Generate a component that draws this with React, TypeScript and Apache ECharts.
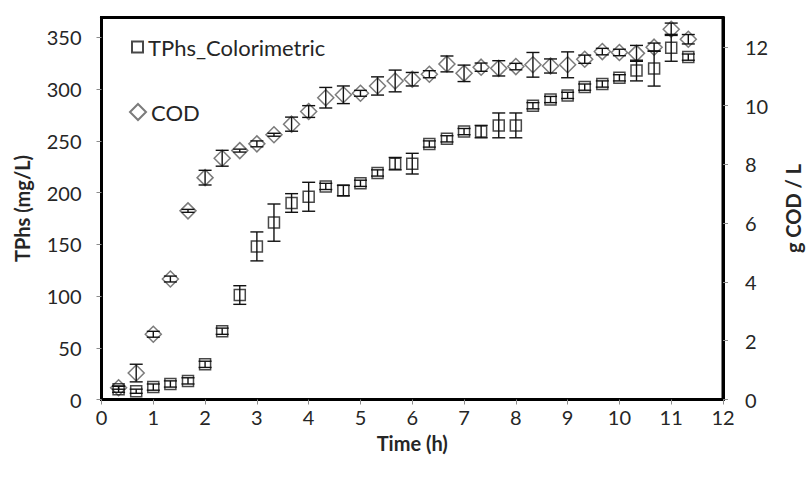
import React, { useEffect, useRef } from "react";
import * as echarts from "echarts";

// Sampling times (h)
const hours = [0.33, 0.67, 1, 1.33, 1.67, 2, 2.33, 2.67, 3, 3.33, 3.67, 4, 4.33, 4.67, 5, 5.33, 5.67, 6, 6.33, 6.67, 7, 7.33, 7.67, 8, 8.33, 8.67, 9, 9.33, 9.67, 10, 10.33, 10.67, 11, 11.33];

// TPhs (mg/L), colorimetric
const tphs = [10, 8, 12, 15, 18, 34, 66, 101, 148, 171, 190, 196, 206, 202, 209, 219, 228, 228, 247, 252, 259, 259, 265, 265, 284, 290, 294, 302, 305, 311, 318, 320, 340, 331];
const tphsErr = [3, 2, 3, 3, 3, 3, 3, 9, 14, 18, 9, 14, 3, 5, 3, 3, 6, 10, 3, 3, 3, 6, 12, 12, 3, 3, 3, 3, 3, 3, 10, 17, 13, 3];

// COD (g COD / L)
const cod = [0.4, 0.9, 2.22, 4.1, 6.42, 7.55, 8.21, 8.47, 8.7, 9.01, 9.37, 9.8, 10.27, 10.37, 10.42, 10.67, 10.84, 10.9, 11.07, 11.42, 11.1, 11.31, 11.27, 11.33, 11.39, 11.35, 11.39, 11.58, 11.84, 11.81, 11.78, 11.99, 12.6, 12.26];
const codErr = [0.05, 0.3, 0.1, 0.1, 0.05, 0.25, 0.27, 0.05, 0.1, 0.05, 0.24, 0.2, 0.35, 0.3, 0.1, 0.31, 0.37, 0.23, 0.12, 0.27, 0.28, 0.14, 0.26, 0.11, 0.42, 0.24, 0.44, 0.14, 0.11, 0.11, 0.27, 0.14, 0.21, 0.16];

// Tick labels
const xTicks = [0, 1, 2, 3, 4, 5, 6, 7, 8, 9, 10, 11, 12];
const leftTicks = [0, 50, 100, 150, 200, 250, 300, 350];
const rightTicks = [0, 2, 4, 6, 8, 10, 12];

const FONT = "Lato";
const TEXT = "#262626";

export default function App() {
  const ref = useRef<HTMLDivElement>(null);

  useEffect(() => {
    if (!ref.current) return;
    const chart = echarts.init(ref.current, null, { renderer: "svg" });

    const errorBars = (values: number[], errs: number[], yAxisIndex: number, z: number) => ({
      type: "custom",
      yAxisIndex,
      silent: true,
      z,
      data: hours.map((h, i) => [h, values[i] - errs[i], values[i] + errs[i]]),
      encode: { x: 0, y: [1, 2] },
      renderItem: (_params: any, api: any) => {
        const x = api.value(0);
        const lo = api.coord([x, api.value(1)]);
        const hi = api.coord([x, api.value(2)]);
        const cap = 6.5;
        const style = { stroke: "#111", lineWidth: 1.4 };
        return {
          type: "group",
          children: [
            { type: "line", shape: { x1: lo[0], y1: lo[1], x2: hi[0], y2: hi[1] }, style },
            { type: "line", shape: { x1: lo[0] - cap, y1: lo[1], x2: lo[0] + cap, y2: lo[1] }, style },
            { type: "line", shape: { x1: hi[0] - cap, y1: hi[1], x2: hi[0] + cap, y2: hi[1] }, style },
          ],
        };
      },
    });

    const legendText = { fontFamily: FONT, fontSize: 22, color: TEXT };

    chart.setOption({
      animation: false,
      backgroundColor: "#fff",
      grid: {
        left: 101.5,
        top: 17.5,
        right: 82.5,
        bottom: 79.5,
        show: true,
        borderColor: "#000",
        borderWidth: 3,
        backgroundColor: "transparent",
      },
      legend: [
        {
          data: ["TPhs_Colorimetric"],
          left: 126,
          top: 31,
          itemWidth: 11,
          itemHeight: 11,
          textStyle: legendText,
        },
        {
          data: ["COD"],
          left: 124,
          top: 96,
          itemWidth: 16,
          itemHeight: 16,
          textStyle: legendText,
        },
      ],
      xAxis: {
        type: "value",
        min: 0,
        max: 12,
        interval: 1,
        name: "Time (h)",
        nameLocation: "middle",
        nameGap: 33,
        nameTextStyle: { fontFamily: FONT, fontSize: 20, fontWeight: "bold", color: TEXT },
        axisLine: { show: true, lineStyle: { color: "#000", width: 3 } },
        axisTick: { show: true, inside: false, length: 5, lineStyle: { color: "#8c8c8c", width: 1 }, customValues: xTicks },
        axisLabel: { margin: 7, fontFamily: FONT, fontSize: 20, color: TEXT, customValues: xTicks },
        splitLine: { show: false },
      },
      yAxis: [
        {
          type: "value",
          position: "left",
          min: 0,
          max: 369.3,
          interval: 50,
          name: "TPhs (mg/L)",
          nameLocation: "middle",
          nameRotate: 90,
          nameGap: 70,
          nameTextStyle: { fontFamily: FONT, fontSize: 20, fontWeight: "bold", color: TEXT },
          axisLine: { show: true, lineStyle: { color: "#000", width: 3 } },
          axisTick: { show: true, inside: false, length: 5, lineStyle: { color: "#8c8c8c", width: 1 }, customValues: leftTicks },
          axisLabel: { margin: 20, fontFamily: FONT, fontSize: 20, color: TEXT, customValues: leftTicks },
          splitLine: { show: false },
        },
        {
          type: "value",
          position: "right",
          min: 0,
          max: 13,
          interval: 2,
          name: "g COD / L",
          nameLocation: "middle",
          nameRotate: 90,
          nameGap: 60,
          nameTextStyle: { fontFamily: FONT, fontSize: 20, fontWeight: "bold", color: TEXT },
          axisLine: { show: true, lineStyle: { color: "#000", width: 3 } },
          axisTick: { show: true, inside: false, length: 5, lineStyle: { color: "#8c8c8c", width: 1 }, customValues: rightTicks },
          axisLabel: { margin: 22, fontFamily: FONT, fontSize: 20, color: TEXT, customValues: rightTicks },
          splitLine: { show: false },
        },
      ],
      series: [
        {
          name: "COD",
          type: "scatter",
          yAxisIndex: 1,
          symbol: "diamond",
          symbolSize: [16, 16],
          z: 2,
          itemStyle: { color: "rgba(255,255,255,0)", borderColor: "#5a5a5a", borderWidth: 1.5 },
          data: hours.map((h, i) => [h, cod[i]]),
        },
        {
          name: "TPhs_Colorimetric",
          type: "scatter",
          yAxisIndex: 0,
          symbol: "rect",
          symbolSize: [11, 11],
          z: 2,
          itemStyle: { color: "rgba(255,255,255,0)", borderColor: "#1a1a1a", borderWidth: 1.5 },
          data: hours.map((h, i) => [h, tphs[i]]),
        },
        errorBars(cod, codErr, 1, 3),
        errorBars(tphs, tphsErr, 0, 3),
      ],
    });

    return () => chart.dispose();
  }, []);

  return (
    <div
      ref={ref}
      style={{ position: "fixed", left: 0, top: 0, width: 811, height: 479, background: "#fff" }}
    />
  );
}
